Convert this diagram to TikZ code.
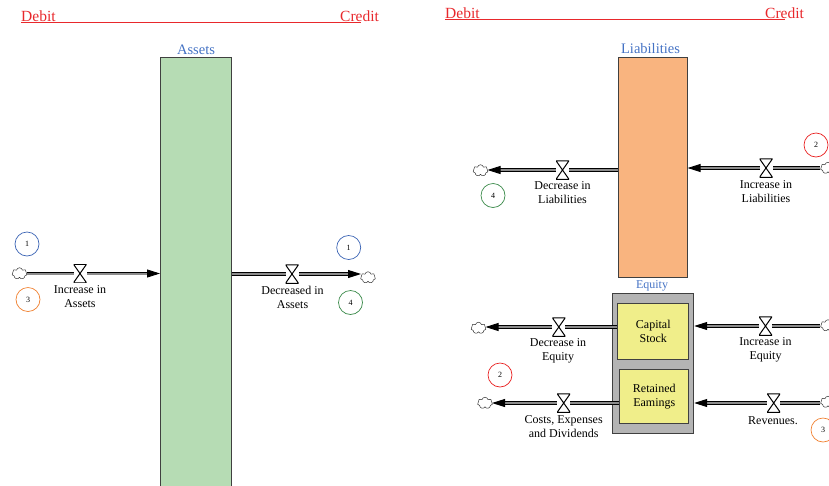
\documentclass[tikz,border=0pt]{standalone}
\usepackage{fontspec}
\setmainfont{Liberation Serif}
\usetikzlibrary{shapes.symbols,arrows.meta,calc}
\definecolor{hdrred}{HTML}{E8282C}
\definecolor{lblblue}{HTML}{4472C4}
\definecolor{assetgreen}{HTML}{B6DCB4}
\definecolor{liaborange}{HTML}{F9B47F}
\definecolor{eqgray}{HTML}{B4B4B4}
\definecolor{stockyellow}{HTML}{F0EE8A}
\definecolor{cblue}{HTML}{3B64B4}
\definecolor{corange}{HTML}{F08030}
\definecolor{cgreen}{HTML}{3A8A4A}
\definecolor{cred}{HTML}{E82020}
\tikzset{
  hdr/.style={text=hdrred, font=\fontsize{15.5}{17}\selectfont, inner sep=0, anchor=base},
  hdrline/.style={draw=hdrred, line width=0.9pt},
  stocklbl/.style={text=lblblue, font=\fontsize{14.5}{16}\selectfont, inner sep=0},
  stockbox/.style={draw=black!75, line width=0.9pt, inner sep=0, anchor=north west},
  sublbl/.style={font=\fontsize{12}{14}\selectfont, align=center, inner sep=0},
  flowlbl/.style={font=\fontsize{12}{14}\selectfont, align=center, inner sep=0},
  numc/.style={circle, draw, line width=0.7pt, minimum size=24pt, inner sep=0, font=\fontsize{8}{9}\selectfont},
  cloudn/.style={cloud, draw=black!80, line width=0.5pt, cloud puffs=7, aspect=1.3, minimum width=15pt, minimum height=11.5pt, inner sep=0},
  pipe/.style={draw=black, line width=0.9pt, double=black!45, double distance=2pt, -{Triangle[length=13pt,width=8pt]}},
  valve/.style={minimum width=13pt, minimum height=18.5pt, inner sep=0, fill=white,
    path picture={\draw[black, line width=1pt] (path picture bounding box.north west) -- (path picture bounding box.north east) -- (path picture bounding box.south west) -- (path picture bounding box.south east) -- cycle;}},
}
\begin{document}
\begin{tikzpicture}[x=1pt,y=-1pt]
\useasboundingbox (0,0) rectangle (829,485);
% headers
\node[hdr, anchor=base west] (dl) at (21,21) {Debit};
\node[hdr, anchor=base west] (cl) at (340,21) {Credit};
\coordinate (dlA) at (21,22.3);
\coordinate (dlB) at (361,22.3);
\draw[hdrline] (dlA) -- (dlB);
\node[hdr, anchor=base west] (dr) at (445,18.5) {Debit};
\node[hdr, anchor=base west] (cr) at (765,18.5) {Credit};
\coordinate (drA) at (445,19.3);
\coordinate (drB) at (785,19.3);
\draw[hdrline] (drA) -- (drB);

% stocks
\node[stockbox, fill=assetgreen, minimum width=71pt, minimum height=432pt] (assets) at (160,57) {};
\node[stocklbl] (assetsl) at (196,50) {Assets};
\node[stockbox, fill=liaborange, minimum width=69pt, minimum height=220pt] (liab) at (617.7,57) {};
\node[stocklbl] (liabl) at (650.5,49) {Liabilities};
\node[stockbox, fill=eqgray, minimum width=81.6pt, minimum height=139.4pt] (equity) at (611.7,293.3) {};
\node[text=lblblue, font=\fontsize{12}{13}\selectfont, inner sep=0] (equityl) at (652,286) {Equity};
\node[stockbox, fill=stockyellow, minimum width=71pt, minimum height=56pt] (capital) at (617.3,303.3) {};
\node[sublbl] (capitall) at (capital.center) {Capital\\Stock};
\node[stockbox, fill=stockyellow, minimum width=69pt, minimum height=53.4pt] (retained) at (619.3,369.3) {};
\node[sublbl] (retainedl) at (retained.center) {Retained\\Eamings};

% clouds
\node[cloudn] (c1) at (19.5,273.5) {};
\node[cloudn] (c2) at (368,277.5) {};
\node[cloudn] (c3) at (480.5,170.5) {};
\node[cloudn] (c4) at (828,168) {};
\node[cloudn] (c5) at (478.5,328) {};
\node[cloudn] (c6) at (485,403) {};
\node[cloudn] (c7) at (828,325.5) {};
\node[cloudn] (c8) at (828,402) {};

% coordinates at stock edges
\coordinate (p1) at (assets.west |- 0,273.5);
\coordinate (p2) at (assets.east |- 0,274);
\coordinate (p3) at (liab.west |- 0,170);
\coordinate (p4) at (liab.east |- 0,168);
\coordinate (p5) at (capital.west |- 0,327);
\coordinate (p6) at (retained.west |- 0,403);
\coordinate (p7) at (equity.east |- 0,326);
\coordinate (p8) at (equity.east |- 0,403);
\coordinate (q2) at (361,274);
\coordinate (q3) at (487.5,170);
\coordinate (q5) at (485.5,327);
\coordinate (q6) at (492,403);

% pipes
\draw[pipe] (c1.east |- p1) -- (p1);
\draw[pipe] (p2) -- (q2);
\draw[pipe] (p3) -- (q3);
\draw[pipe] (c4.west |- p4) -- (p4);
\draw[pipe] (p5) -- (q5);
\draw[pipe] (p6) -- (q6);
\draw[pipe] (c7.west |- p7) -- (p7);
\draw[pipe] (c8.west |- p8) -- (p8);

% valves
\node[valve] (v1) at (80,273.5) {};
\node[valve] (v2) at (292,274) {};
\node[valve] (v3) at (562.5,170) {};
\node[valve] (v4) at (766,168) {};
\node[valve] (v5) at (558.8,327) {};
\node[valve] (v6) at (563.7,403) {};
\node[valve] (v7) at (765.5,326) {};
\node[valve] (v8) at (773.7,403) {};

% flow labels
\node[flowlbl] (l1) at (80,297) {Increase in\\Assets};
\node[flowlbl] (l2) at (292.5,297.5) {Decreased in\\Assets};
\node[flowlbl] (l3) at (562.5,192.5) {Decrease in\\Liabilities};
\node[flowlbl] (l4) at (766,191.5) {Increase in\\Liabilities};
\node[flowlbl] (l5) at (558,350.5) {Decrease in\\Equity};
\node[flowlbl] (l6) at (563.7,427) {Costs, Expenses\\and Dividends};
\node[flowlbl] (l7) at (765.5,350) {Increase in\\Equity};
\node[flowlbl] (l8) at (773,420.5) {Revenues.};

% numbered circles
\node[numc, draw=cblue] (n1) at (27,244) {1};
\node[numc, draw=corange] (n2) at (28,299.5) {3};
\node[numc, draw=cblue] (n3) at (348.7,247.5) {1};
\node[numc, draw=cgreen] (n4) at (350.5,302.5) {4};
\node[numc, draw=cgreen] (n5) at (493,195.5) {4};
\node[numc, draw=cred] (n6) at (816,145) {2};
\node[numc, draw=cred] (n7) at (500,375) {2};
\node[numc, draw=corange] (n8) at (823,430) {3};
\end{tikzpicture}
\end{document}
